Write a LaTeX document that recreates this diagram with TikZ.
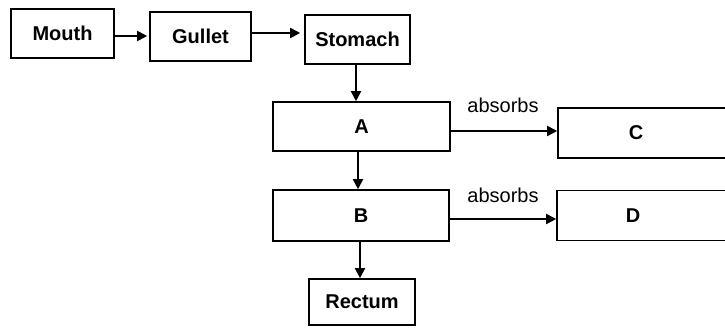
\documentclass[tikz,border=0pt]{standalone}
\usepackage{fontspec}
\setmainfont{Liberation Sans}
\usetikzlibrary{arrows.meta}
\begin{document}
\begin{tikzpicture}[x=1pt,y=-1pt,
  box/.style={draw=black, line width=1.6pt, inner sep=0pt, font=\fontsize{20}{24}\selectfont\bfseries},
  arr/.style={draw=black, line width=1.8pt, -{Triangle[length=10pt,width=10pt]}},
  lbl/.style={font=\fontsize{20}{24}\selectfont, inner sep=0pt}]
\useasboundingbox (0,0) rectangle (725,328);
\node[box, minimum width=103pt, minimum height=49pt] (mouth) at (62.5,33.5) {Mouth};
\node[box, minimum width=101pt, minimum height=49pt] (gullet) at (200.5,36.5) {Gullet};
\node[box, minimum width=105pt, minimum height=49pt] (stomach) at (357.5,39.5) {Stomach};
\node[box, minimum width=177pt, minimum height=49pt] (a) at (361.5,126.5) {A};
\node[box, minimum width=176pt, minimum height=51pt] (b) at (361,215.5) {B};
\node[box, minimum width=106pt, minimum height=46pt] (rectum) at (362,302) {Rectum};
\node[box, minimum width=220pt, minimum height=50pt] (c) at (668,133) {};
\node[box, inner sep=0pt, draw=none] at (636,133) {C};
\node[box, minimum width=220pt, minimum height=50pt] (d) at (667,215.5) {};
\node[box, inner sep=0pt, draw=none] at (633,215.5) {D};
\node[lbl] (l1) at (503,105) {absorbs};
\node[lbl] (l2) at (503,195) {absorbs};
\draw[arr] (mouth.east |- 0,36) -- ([xshift=-2pt]gullet.west |- 0,36);
\draw[arr] (gullet.east |- 0,33) -- ([xshift=-4pt]stomach.west |- 0,33);
\draw[arr] (stomach.south -| 356,0) -- (a.north -| 356,0);
\draw[arr] (a.south -| 358,0) -- (b.north -| 358,0);
\draw[arr] (b.south -| 360,0) -- (rectum.north -| 360,0);
\draw[arr] (a.east |- 0,131) -- (c.west |- 0,131);
\draw[arr] (b.east |- 0,219) -- (d.west |- 0,219);
\end{tikzpicture}
\end{document}
